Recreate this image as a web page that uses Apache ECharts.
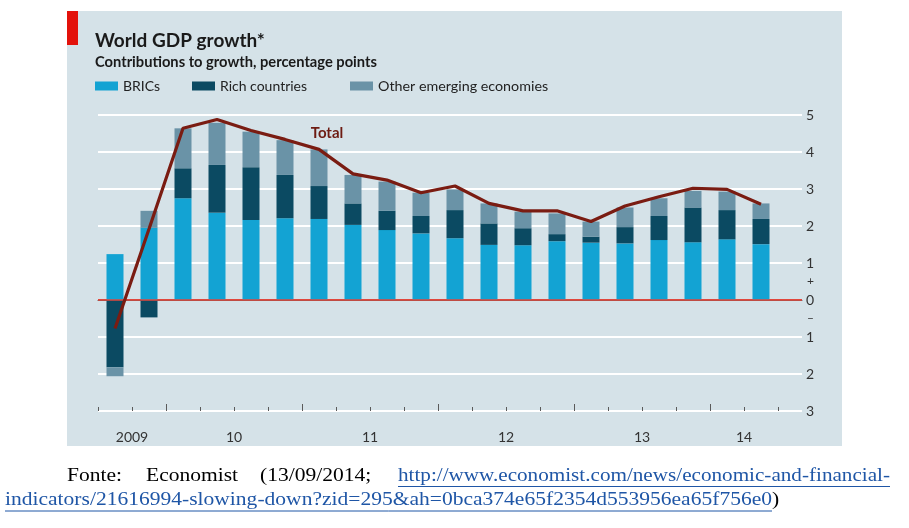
<!DOCTYPE html>
<html>
<head>
<meta charset="utf-8">
<script src="https://cdn.jsdelivr.net/npm/echarts@6/dist/echarts.min.js"></script>
<style>
html,body{margin:0;padding:0;background:#fff;}
#chart{width:909px;height:528px;}
</style>
</head>
<body>
<div id="chart"></div>
<script>
// ---- data ----
const categories = ['2009 Q3','2009 Q4','2010 Q1','2010 Q2','2010 Q3','2010 Q4','2011 Q1','2011 Q2','2011 Q3','2011 Q4','2012 Q1','2012 Q2','2012 Q3','2012 Q4','2013 Q1','2013 Q2','2013 Q3','2013 Q4','2014 Q1','2014 Q2'];
const brics = [1.24, 1.95, 2.75, 2.36, 2.16, 2.21, 2.19, 2.03, 1.89, 1.80, 1.67, 1.49, 1.48, 1.59, 1.55, 1.53, 1.62, 1.56, 1.64, 1.51];
const rich = [-1.82, -0.47, 0.81, 1.29, 1.43, 1.17, 0.89, 0.58, 0.52, 0.47, 0.76, 0.58, 0.46, 0.19, 0.16, 0.44, 0.65, 0.94, 0.79, 0.68];
const otherEm = [-0.24, 0.46, 1.08, 1.14, 0.96, 0.94, 0.99, 0.77, 0.79, 0.63, 0.56, 0.54, 0.45, 0.56, 0.41, 0.53, 0.48, 0.45, 0.50, 0.42];
const total = [-0.77, 1.92, 4.64, 4.88, 4.58, 4.34, 4.07, 3.41, 3.24, 2.90, 3.08, 2.61, 2.41, 2.41, 2.12, 2.54, 2.79, 3.02, 2.99, 2.59];
const quarterTicks = [0,1,2,3,4,5,6,7,8,9,10,11,12,13,14,15,16,17,18,19,20];
const yearTicks = [2,6,10,14,18];
const yearLabelPos = [1,4,8,12,16,19];
const yearLabels = ['2009','10','11','12','13','14'];
const signMarks = [-0.5, 0.5];

const C_BRIC = '#13a3d3', C_RICH = '#0b4a62', C_OTHER = '#6a93a7', C_TOTAL = '#7a1c12';
const BG = '#d5e2e8', ZERO = '#e2473d';
const FONT = 'Lato';

const footer1 = ['Fonte:', 'Economist', '(13/09/2014;'];
const footerLink1 = 'http://www.economist.com/news/economic-and-financial-';
const footerLink2 = 'indicators/21616994-slowing-down?zid=295&ah=0bca374e65f2354d553956ea65f756e0';

// measure footer to fit widths
const mctx = document.createElement('canvas').getContext('2d');
const FFS = 19;
mctx.font = FFS + 'px "Liberation Serif"';
const w2 = mctx.measureText(footerLink2).width;
const fscale = 767 / w2;
const fscale1 = 492 / mctx.measureText(footerLink1).width;

const chart = echarts.init(document.getElementById('chart'));

const ftStyle = (t, color) => ({text: t, fontFamily: 'Liberation Serif', fontSize: FFS, fill: color || '#000', textVerticalAlign: 'middle', textAlign: 'left'});

const option = {
  animation: false,
  backgroundColor: '#fff',
  graphic: [
    {type: 'rect', z: -10, shape: {x: 67, y: 11, width: 775, height: 435}, style: {fill: BG}},
    {type: 'rect', z: 5, shape: {x: 67, y: 11, width: 11, height: 34}, style: {fill: '#e3120b'}},
    {type: 'text', z: 5, x: 95, y: 41, style: {text: 'World GDP growth*', fontFamily: FONT, fontWeight: 'bold', fontSize: 19, fill: '#1a1a1a', textVerticalAlign: 'middle'}},
    {type: 'text', z: 5, x: 95, y: 62, style: {text: 'Contributions to growth, percentage points', fontFamily: FONT, fontWeight: 'bold', fontSize: 14.7, fill: '#1a1a1a', textVerticalAlign: 'middle'}},
    {type: 'text', z: 20, x: 327, y: 133, style: {text: 'Total', fontFamily: FONT, fontWeight: 'bold', fontSize: 15, fill: '#6d1b12', textAlign: 'center', textVerticalAlign: 'middle'}},
    {type: 'text', x: 67, y: 476, scaleX: fscale, style: ftStyle(footer1[0])},
    {type: 'text', x: 146, y: 476, scaleX: fscale, style: ftStyle(footer1[1])},
    {type: 'text', x: 260, y: 476, scaleX: fscale, style: ftStyle(footer1[2])},
    {type: 'text', x: 398, y: 476, scaleX: fscale1, style: ftStyle(footerLink1, '#1f56a6')},
    {type: 'line', shape: {x1: 398, y1: 486.5, x2: 890, y2: 486.5}, style: {stroke: '#1f56a6', lineWidth: 1}},
    {type: 'text', x: 5, y: 500.5, scaleX: fscale, style: ftStyle(footerLink2, '#1f56a6')},
    {type: 'line', shape: {x1: 5, y1: 511, x2: 5 + 767, y2: 511}, style: {stroke: '#1f56a6', lineWidth: 1}},
    {type: 'text', x: 772, y: 500.5, scaleX: fscale, style: ftStyle(')')}
  ],
  legend: [
    {data: ['BRICs'], left: 95, top: 79, padding: 0, itemWidth: 23, itemHeight: 9, icon: 'rect', textStyle: {fontFamily: FONT, fontSize: 14, color: '#222'}},
    {data: ['Rich countries'], left: 192, top: 79, padding: 0, itemWidth: 23, itemHeight: 9, icon: 'rect', textStyle: {fontFamily: FONT, fontSize: 14, color: '#222'}},
    {data: ['Other emerging economies'], left: 350, top: 79, padding: 0, itemWidth: 23, itemHeight: 9, icon: 'rect', textStyle: {fontFamily: FONT, fontSize: 14.3, color: '#222'}}
  ],
  grid: [
    {left: 98, top: 115, width: 704, height: 296, containLabel: false},
    {left: 98, top: 115, width: 680, height: 296, containLabel: false}
  ],
  xAxis: [
    {gridIndex: 0, type: 'value', min: 0, max: 1, position: 'bottom',
     axisLine: {show: true, lineStyle: {color: '#5a5a5a', width: 1}},
     axisTick: {show: false}, axisLabel: {show: false}, splitLine: {show: false}},
    {gridIndex: 1, type: 'category', data: categories, position: 'bottom',
     axisLine: {show: false}, axisTick: {show: false}, axisLabel: {show: false}, splitLine: {show: false}},
    {gridIndex: 1, type: 'value', min: 0, max: 20, position: 'bottom',
     axisLine: {show: false}, splitLine: {show: false},
     axisTick: {show: true, inside: true, length: 4, customValues: quarterTicks, lineStyle: {color: '#5a5a5a', width: 1}},
     axisLabel: {show: true, customValues: yearLabelPos, margin: 19, fontFamily: FONT, fontSize: 14, color: '#333',
       formatter: v => yearLabels[yearLabelPos.indexOf(Math.round(v))] || ''}},
    {gridIndex: 1, type: 'value', min: 0, max: 20, position: 'bottom',
     axisLine: {show: false}, splitLine: {show: false}, axisLabel: {show: false},
     axisTick: {show: true, inside: true, length: 7, customValues: yearTicks, lineStyle: {color: '#5a5a5a', width: 1}}}
  ],
  yAxis: [
    {gridIndex: 0, type: 'value', min: -3, max: 5, interval: 1, position: 'right',
     axisLine: {show: false}, axisTick: {show: false},
     axisLabel: {margin: 4, fontFamily: FONT, fontSize: 14, color: '#333', formatter: v => String(Math.abs(v))},
     splitLine: {show: true, lineStyle: {color: ['#fff','#fff','#fff',ZERO,'#fff','#fff','#fff','#fff','#fff'], width: 2}}},
    {gridIndex: 0, type: 'value', min: -3, max: 5, position: 'right',
     axisLine: {show: false}, axisTick: {show: false}, splitLine: {show: false},
     axisLabel: {customValues: signMarks, margin: 5, fontFamily: FONT, fontSize: 12, color: '#333', formatter: v => v > 0 ? '+' : '–'}},
    {gridIndex: 1, type: 'value', min: -3, max: 5, show: false}
  ],
  series: [
    {name: 'zero', type: 'line', xAxisIndex: 0, yAxisIndex: 0, data: [], silent: true, z: 4,
     markLine: {silent: true, symbol: 'none', label: {show: false}, lineStyle: {color: ZERO, width: 1.5, type: 'solid'}, data: [{yAxis: 0}]}},
    {name: 'BRICs', type: 'bar', xAxisIndex: 1, yAxisIndex: 2, stack: 'gdp', barWidth: 17, data: brics, itemStyle: {color: C_BRIC}},
    {name: 'Rich countries', type: 'bar', xAxisIndex: 1, yAxisIndex: 2, stack: 'gdp', barWidth: 17, data: rich, itemStyle: {color: C_RICH}},
    {name: 'Other emerging economies', type: 'bar', xAxisIndex: 1, yAxisIndex: 2, stack: 'gdp', barWidth: 17, data: otherEm, itemStyle: {color: C_OTHER}},
    {name: 'Total', type: 'line', xAxisIndex: 1, yAxisIndex: 2, data: total, symbol: 'none', z: 10,
     lineStyle: {color: C_TOTAL, width: 3.2}, itemStyle: {color: C_TOTAL}}
  ]
};
chart.setOption(option);
</script>
</body>
</html>
